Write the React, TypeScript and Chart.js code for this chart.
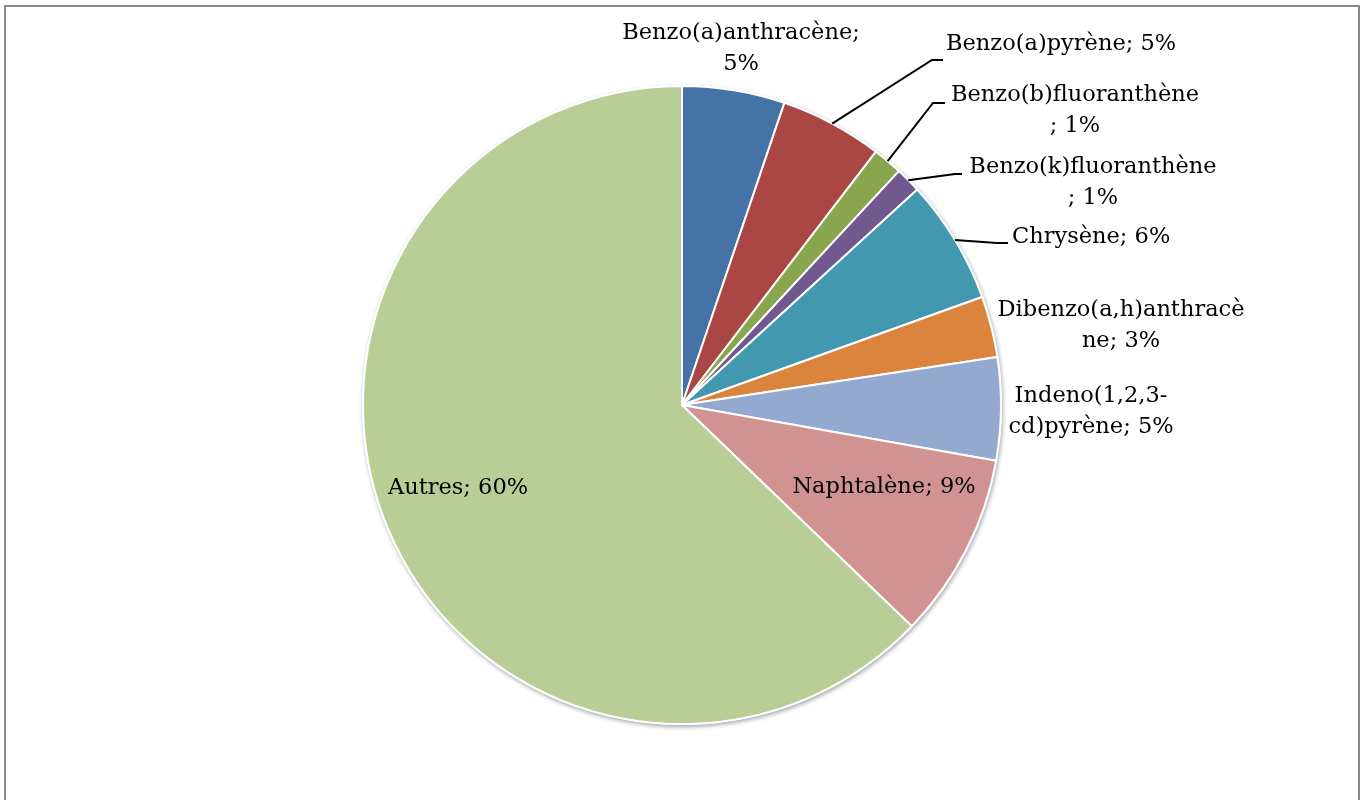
import React, { useEffect, useRef } from "react";
import { Chart, registerables } from "chart.js";

Chart.register(...registerables);

const categories = [
  "Benzo(a)anthracène",
  "Benzo(a)pyrène",
  "Benzo(b)fluoranthène",
  "Benzo(k)fluoranthène",
  "Chrysène",
  "Dibenzo(a,h)anthracène",
  "Indeno(1,2,3-cd)pyrène",
  "Naphtalène",
  "Autres",
];
const values = [5.2, 5.2, 1.5, 1.3, 6.3, 3.1, 5.2, 9.4, 62.8];
const percentLabels = ["5%", "5%", "1%", "1%", "6%", "3%", "5%", "9%", "60%"];
const colors = [
  "#4572A7",
  "#AA4643",
  "#89A54E",
  "#71588F",
  "#4198AF",
  "#DB843D",
  "#93A9CF",
  "#D19392",
  "#B9CD96",
];

// label layout: text lines, anchor x, first-line y, alignment, optional leader elbow
type LabelLayout = {
  lines: string[];
  x: number;
  y: number;
  align: CanvasTextAlign;
  elbow?: [number, number, number];
};
const lineHeight = 31;
const labelLayout: LabelLayout[] = [
  { lines: ["Benzo(a)anthracène;", "5%"], x: 741, y: 33, align: "center" },
  { lines: ["Benzo(a)pyrène; 5%"], x: 946, y: 44, align: "left", elbow: [932, 943, 60] },
  { lines: ["Benzo(b)fluoranthène", "; 1%"], x: 1075, y: 95, align: "center", elbow: [933, 945, 103] },
  { lines: ["Benzo(k)fluoranthène", "; 1%"], x: 1093, y: 167, align: "center", elbow: [955, 962, 174] },
  { lines: ["Chrysène; 6%"], x: 1012, y: 237, align: "left", elbow: [997, 1008, 243] },
  { lines: ["Dibenzo(a,h)anthracè", "ne; 3%"], x: 1121, y: 310, align: "center" },
  { lines: ["Indeno(1,2,3-", "cd)pyrène; 5%"], x: 1091, y: 396, align: "center" },
  { lines: ["Naphtalène; 9%"], x: 884, y: 487, align: "center" },
  { lines: ["Autres; 60%"], x: 458, y: 488, align: "center" },
];

const FONT = '22.5px "DejaVu Serif", serif';

const framePlugin = {
  id: "frame",
  beforeDraw(chart: any) {
    const ctx = chart.ctx;
    ctx.save();
    ctx.fillStyle = "#ffffff";
    ctx.fillRect(0, 0, chart.width, chart.height);
    ctx.strokeStyle = "#8a8a8a";
    ctx.lineWidth = 2;
    ctx.beginPath();
    ctx.moveTo(5, 820);
    ctx.lineTo(5, 6);
    ctx.lineTo(1359, 6);
    ctx.lineTo(1359, 820);
    ctx.stroke();
    ctx.restore();
  },
  beforeDatasetsDraw(chart: any) {
    const arc = chart.getDatasetMeta(0).data[0];
    if (!arc) return;
    const ctx = chart.ctx;
    ctx.save();
    ctx.shadowColor = "rgba(0,0,0,0.35)";
    ctx.shadowBlur = 4;
    ctx.shadowOffsetX = 1;
    ctx.shadowOffsetY = 2;
    ctx.fillStyle = "#ffffff";
    ctx.beginPath();
    ctx.arc(arc.x, arc.y, arc.outerRadius + 1, 0, Math.PI * 2);
    ctx.fill();
    ctx.restore();
  },
};

const labelPlugin = {
  id: "pieLabels",
  afterDatasetsDraw(chart: any) {
    const ctx = chart.ctx;
    const meta = chart.getDatasetMeta(0);
    ctx.save();
    ctx.font = FONT;
    ctx.fillStyle = "#000000";
    ctx.textBaseline = "middle";
    labelLayout.forEach((lab, i) => {
      const arc = meta.data[i];
      if (lab.elbow && arc) {
        const mid = (arc.startAngle + arc.endAngle) / 2;
        const sx = arc.x + Math.cos(mid) * arc.outerRadius;
        const sy = arc.y + Math.sin(mid) * arc.outerRadius;
        ctx.strokeStyle = "#000000";
        ctx.lineWidth = 2;
        ctx.beginPath();
        ctx.moveTo(sx, sy);
        ctx.lineTo(lab.elbow[0], lab.elbow[2]);
        ctx.lineTo(lab.elbow[1], lab.elbow[2]);
        ctx.stroke();
      }
      ctx.textAlign = lab.align;
      lab.lines.forEach((t, k) => {
        ctx.fillText(t, lab.x, lab.y + k * lineHeight);
      });
    });
    ctx.restore();
  },
};

export default function App() {
  const ref = useRef<HTMLCanvasElement | null>(null);
  useEffect(() => {
    document.body.style.margin = "0";
    const canvas = ref.current;
    if (!canvas) return;
    const chart = new Chart(canvas, {
      type: "pie",
      data: {
        labels: categories.map((c, i) => `${c}; ${percentLabels[i]}`),
        datasets: [
          {
            data: values,
            backgroundColor: colors,
            borderColor: "#ffffff",
            borderWidth: 2,
          },
        ],
      },
      options: {
        responsive: false,
        animation: false,
        layout: { padding: { top: 85, bottom: 75, left: 362, right: 362 } },
        plugins: {
          legend: { display: false },
          tooltip: { enabled: false },
        },
      },
      plugins: [framePlugin, labelPlugin],
    });
    return () => chart.destroy();
  }, []);
  return (
    <div style={{ width: 1364, height: 800 }}>
      <canvas ref={ref} width={1364} height={800} style={{ display: "block" }} />
    </div>
  );
}
